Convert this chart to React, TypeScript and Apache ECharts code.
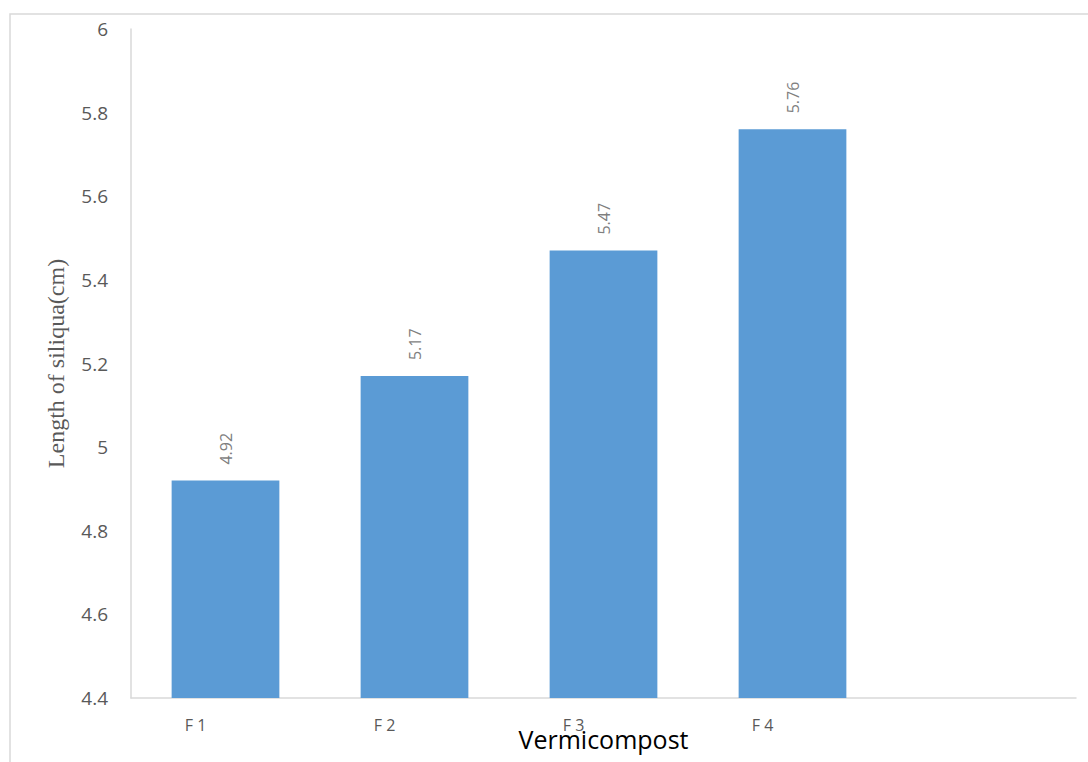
import React, { useEffect, useRef } from "react";
import * as echarts from "echarts";

const categories = ["F 1", "F 2", "F 3", "F 4", ""];
const lengthValues = [4.92, 5.17, 5.47, 5.76, null];
const yMin = 4.4;
const yMax = 6;
const yInterval = 0.2;

export default function App() {
  const ref = useRef<HTMLDivElement>(null);
  useEffect(() => {
    document.body.style.margin = "0";
    document.body.style.overflow = "hidden";
    if (!ref.current) return;
    const chart = echarts.init(ref.current, undefined, { renderer: "svg" });
    chart.setOption({
      animation: false,
      backgroundColor: "#ffffff",
      graphic: [
        {
          type: "polyline",
          shape: { points: [[10, 770], [10, 14], [1100, 14]] },
          style: { fill: "none", stroke: "#d9d9d9", lineWidth: 1.5 },
          silent: true,
        },
      ],
      grid: {
        left: 131,
        right: 12,
        top: 29,
        bottom: 64,
        containLabel: false,
        outerBoundsMode: "none",
      },
      xAxis: {
        type: "category",
        data: categories,
        name: "Vermicompost",
        nameLocation: "middle",
        nameGap: 28,
        nameMoveOverlap: false,
        nameTextStyle: { color: "#000000", fontSize: 25, fontFamily: "Open Sans" },
        axisLine: { show: true, lineStyle: { color: "#d9d9d9", width: 1.5 } },
        axisTick: { show: false },
        axisLabel: {
          color: "#595959",
          fontSize: 16,
          fontFamily: "Open Sans",
          margin: 19,
          align: "center",
          padding: [0, 60, 0, 0],
        },
        splitLine: { show: false },
      },
      yAxis: {
        type: "value",
        min: yMin,
        max: yMax,
        interval: yInterval,
        name: "Length of siliqua(cm)",
        nameLocation: "middle",
        nameGap: 63,
        nameMoveOverlap: false,
        nameTextStyle: { color: "#595959", fontSize: 24, fontFamily: "Liberation Serif" },
        axisLine: { show: true, lineStyle: { color: "#d9d9d9", width: 1.5 } },
        axisTick: { show: false },
        splitLine: { show: false },
        axisLabel: {
          color: "#595959",
          fontSize: 19,
          fontFamily: "Open Sans",
          margin: 23,
          formatter: (v: number) => String(Math.round(v * 10) / 10),
        },
      },
      series: [
        {
          type: "bar",
          data: lengthValues,
          barWidth: "57%",
          itemStyle: { color: "#5b9bd5" },
          label: {
            show: true,
            position: "top",
            rotate: 90,
            align: "left",
            verticalAlign: "middle",
            distance: 16,
            color: "#7f7f7f",
            fontSize: 16,
            fontFamily: "Open Sans",
            formatter: (p: any) => Number(p.value).toFixed(2),
          },
        },
      ],
    });
    return () => chart.dispose();
  }, []);
  return <div ref={ref} style={{ width: 1088, height: 762 }} />;
}
